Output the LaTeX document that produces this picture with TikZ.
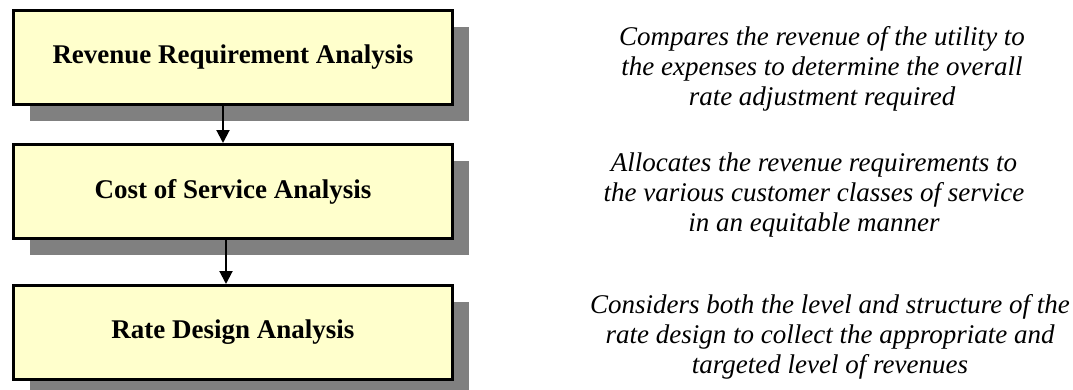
\documentclass[tikz,border=0pt]{standalone}
\usepackage{fontspec}
\setmainfont{Liberation Serif}
\usetikzlibrary{shadows,arrows.meta}
\definecolor{boxyellow}{RGB}{255,255,204}
\def\stagebox{\node[rectangle,draw=black,line width=3pt,fill=boxyellow,minimum width=439pt,minimum height=94pt,font=\fontsize{27}{30.5}\selectfont\bfseries,drop shadow={shadow xshift=16pt,shadow yshift=-16pt,fill=black!50,opacity=1}]}
\def\notetext{\node[align=center,font=\fontsize{27}{30}\selectfont\itshape]}
\def\drawflow{\draw[line width=2pt,-{Triangle[width=13pt,length=13pt]}]}

\begin{document}
\begin{tikzpicture}[x=1pt,y=-1pt]
\useasboundingbox (0,0) rectangle (1073,389);
\stagebox (rra) at (233,57.5) {Revenue Requirement Analysis};
\stagebox (cos) at (233,191.5) {Cost of Service Analysis};
\stagebox (rda) at (233,332.5) {Rate Design Analysis};
\notetext (rranote) at (822,69) {Compares the revenue of the utility to\\the expenses to determine the overall\\rate adjustment required};
\notetext (cosnote) at (814,195) {Allocates the revenue requirements to\\the various customer classes of service\\in an equitable manner};
\notetext (rdanote) at (830,337) {Considers both the level and structure of the\\rate design to collect the appropriate and\\targeted level of revenues};
\drawflow ([xshift=-10pt]rra.south) -- ([xshift=-10pt]cos.north);
\drawflow ([xshift=-7pt]cos.south) -- ([xshift=-7pt]rda.north);
\end{tikzpicture}
\end{document}
